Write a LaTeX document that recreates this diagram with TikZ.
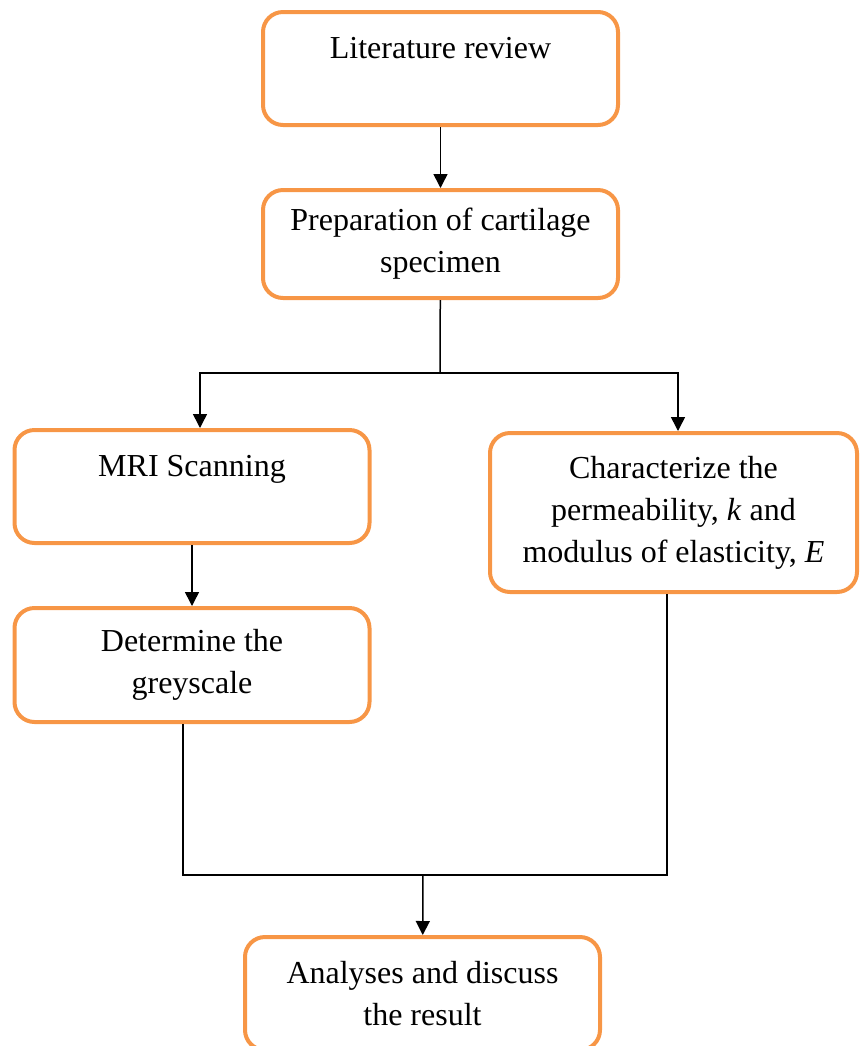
\documentclass[tikz,border=0pt]{standalone}
\usepackage{fontspec}
\setmainfont{Liberation Serif}
\usetikzlibrary{arrows.meta}
\definecolor{boxorange}{HTML}{F79646}
\begin{document}
\begin{tikzpicture}[x=0.5pt, y=-0.5pt]
\tikzset{stepbox/.style={draw=boxorange, line width=2pt, rounded corners=10pt, align=center, inner sep=0pt, minimum width=177.5pt, font=\fontsize{16}{21}\selectfont}}
\useasboundingbox (0,0) rectangle (859,1046);
\node[stepbox, minimum height=56.5pt] (lit) at (440.5,68.5) {Literature review\\ \mbox{}};
\node[stepbox, minimum height=54pt] (prep) at (440.5,244) {Preparation of cartilage\\ specimen};
\node[stepbox, minimum height=56.5pt] (mri) at (192,486.5) {MRI Scanning\\ \mbox{}};
\node[stepbox, minimum height=57pt] (det) at (192,665) {Determine the\\ greyscale};
\node[stepbox, minimum height=79.5pt, minimum width=183.5pt] (char) at (673.5,512.5) {Characterize the\\ permeability, \textit{k} and\\ modulus of elasticity, \textit{E}};
\node[stepbox, minimum height=56.5pt] (ana) at (422.5,993.5) {Analyses and discuss\\ the result};
\coordinate (split) at (440,373);
\coordinate (join) at (423,875);

\tikzset{mystyle/.style={-{Triangle[width=7pt,length=7pt]}, line width=0.75pt}};
\path (lit) edge [mystyle] (prep);
\path (mri) edge [mystyle] (det);
\draw[line width=0.75pt] (prep) -- (split);
\draw[mystyle] (split) -| ([xshift=4pt]mri.north);
\draw[mystyle] (split) -| ([xshift=2.25pt]char.north);
\draw[line width=0.75pt] ([xshift=-4.5pt]det.south) |- (join) -| ([xshift=-3.25pt]char.south);
\path (join) edge [mystyle] (ana);
\end{tikzpicture}
\end{document}
